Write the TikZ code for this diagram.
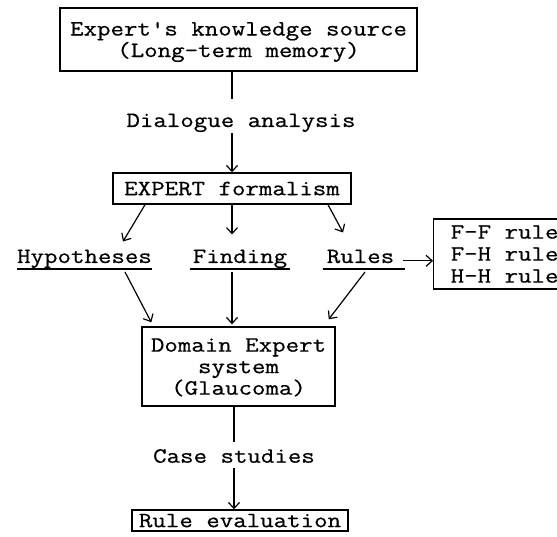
\documentclass[tikz,border=0pt]{standalone}
\usepackage{fontspec}
\setmonofont{Latin Modern Mono}[FakeStretch=1.2,FakeBold=0.6]
\usetikzlibrary{arrows.meta}
\begin{document}
\begin{tikzpicture}[x=1pt,y=-1pt,
  every node/.style={font=\ttfamily\fontsize{21.8}{21.5}\selectfont, inner sep=0pt},
  box/.style={draw, line width=1.4pt, align=center, text depth=0pt},
  conn/.style={line width=1.2pt},
  arr/.style={conn,-{Straight Barb[length=6pt,width=11pt]}},
  uline/.style={line width=1.8pt}]
\clip (0,0) rectangle (557,537);
\fill[white] (0,0) rectangle (557,537);
% boxes
\node[box, minimum width=357pt, minimum height=63pt] (top) at (238.5,39.5) {Expert's knowledge source\\(Long-term memory)};
\node[box, minimum width=238pt, minimum height=31pt] (exp) at (232,188.5) {EXPERT formalism};
\node[box, minimum width=193pt, minimum height=79pt] (dom) at (238.5,366.5) {Domain Expert\\system\hspace{9pt}\\(Glaucoma)\hspace{13pt}};
\node[box, minimum width=216pt, minimum height=21pt] (rev) at (240,520.5) {Rule evaluation};
\node[draw, line width=1.4pt, anchor=west, inner xsep=17pt, minimum height=70pt, font=\ttfamily\fontsize{21.8}{22}\selectfont] (rb) at (433,254) {\parbox[c]{150pt}{\raggedright F-F rule\\F-H rule\\H-H rule}};
% text labels
\node[anchor=base] (dlg) at (241,127) {Dialogue analysis};
\node[anchor=base] (hyp) at (84.5,263) {Hypotheses};
\node[anchor=base] (fnd) at (240,263) {Finding};
\node[anchor=base] (rul) at (360.5,263) {Rules};
\node[anchor=base] (cs) at (234,462.7) {Case studies};
% underlines
\draw[uline] ([yshift=-6pt]hyp.base west) -- ([yshift=-6pt]hyp.base east);
\draw[uline] ([xshift=-3pt,yshift=-6pt]fnd.base west) -- ([xshift=3pt,yshift=-6pt]fnd.base east);
\draw[uline] ([xshift=-4pt,yshift=-6pt]rul.base west) -- ([xshift=11pt,yshift=-6pt]rul.base east);
% connectors
\draw[conn] (top.south -| exp.north) -- ([yshift=14pt]dlg.north -| exp.north);
\draw[arr] ([yshift=-1pt]dlg.south -| exp.north) -- (exp.north);
\draw[arr] ([xshift=-87pt]exp.south) -- ([xshift=38.5pt,yshift=8pt]hyp.north);
\draw[arr] (exp.south) -- ([yshift=15pt]fnd.north -| exp.south);
\draw[arr] ([xshift=96pt]exp.south) -- ([xshift=-17.5pt,yshift=17pt]rul.north);
\draw[arr] ([xshift=9pt]rul.mid east) -- (rul.mid east -| rb.west);
\draw[arr] ([xshift=40.5pt,yshift=-9pt]hyp.base) -- ([xshift=10pt,yshift=4pt]dom.north west);
\draw[arr] ([yshift=-9pt]fnd.base -| exp.south) -- ([yshift=2pt]dom.north -| exp.south);
\draw[arr] ([xshift=4.5pt,yshift=-9pt]rul.base) -- ([xshift=-7pt,yshift=7pt]dom.north east);
\draw[conn] (dom.south -| cs.base) -- ([yshift=7pt]cs.north);
\draw[arr] ([yshift=-5pt]cs.south) -- (rev.north -| cs.south);
\end{tikzpicture}
\end{document}
